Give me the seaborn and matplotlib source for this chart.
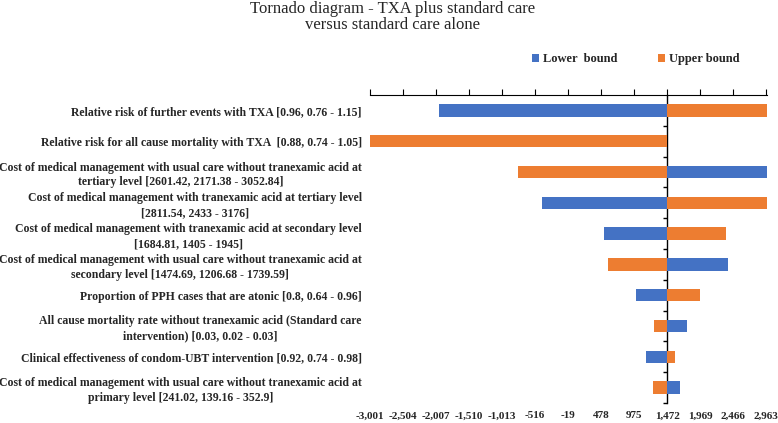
import numpy as np
import pandas as pd
import matplotlib
matplotlib.use('Agg')
import matplotlib.pyplot as plt
import seaborn as sns

# parameters (top to bottom) and the model output at each bound
params = [
    'Relative risk of further events with TXA [0.96, 0.76 - 1.15]',
    'Relative risk for all cause mortality with TXA  [0.88, 0.74 - 1.05]',
    'Cost of medical management with usual care without tranexamic acid at\ntertiary level [2601.42, 2171.38 - 3052.84]',
    'Cost of medical management with tranexamic acid at tertiary level\n[2811.54, 2433 - 3176]',
    'Cost of medical management with tranexamic acid at secondary level\n[1684.81, 1405 - 1945]',
    'Cost of medical management with usual care without tranexamic acid at\nsecondary level [1474.69, 1206.68 - 1739.59]',
    'Proportion of PPH cases that are atonic [0.8, 0.64 - 0.96]',
    'All cause mortality rate without tranexamic acid (Standard care\nintervention) [0.03, 0.02 - 0.03]',
    'Clinical effectiveness of condom-UBT intervention [0.92, 0.74 - 0.98]',
    'Cost of medical management with usual care without tranexamic acid at\nprimary level [241.02, 139.16 - 352.9]',
]
lower_vals = [-1956, 1472, 3004, -415, 529, 2382, 1000, 1769, 1151, 1668]
upper_vals = [3004, -3050, -772, 3004, 2356, 579, 1964, 1271, 1588, 1261]
base_value = 1472
tick_step = 497
bound_names = ['Lower  bound', 'Upper bound']

sns.set_theme(style='white')
plt.rcParams['font.family'] = ['Liberation Serif', 'DejaVu Serif']

df = pd.DataFrame({
    'param': params * 2,
    'bound': [bound_names[0]] * len(params) + [bound_names[1]] * len(params),
    'value': lower_vals + upper_vals,
})
df['delta'] = df['value'] - base_value

fig = plt.figure(figsize=(7.78, 4.23), dpi=100)
ax = fig.add_axes([0.4756, 0.0473, 0.5104, 0.7281])

sns.barplot(data=df, y='param', x='delta', hue='bound', order=params,
            hue_order=bound_names, dodge=False, width=0.4, errorbar=None,
            palette={bound_names[0]: '#4472C4', bound_names[1]: '#ED7D31'},
            saturation=1, linewidth=0, ax=ax)

xmin, xmax = -9 * tick_step, 3 * tick_step + 14
ax.set_xlim(xmin, xmax)
ticks = np.arange(-9, 4) * tick_step
ax.set_xticks(ticks)
ax.set_xticklabels([f'{base_value + t:,}' for t in ticks], fontsize=8, fontweight='bold')
ax.tick_params(axis='x', top=True, bottom=False, labeltop=False, labelbottom=True,
               direction='out', length=4, width=0.8, color='black', pad=2)
ax.set_xlabel('')
ax.set_ylabel('')
for side in ['left', 'right', 'bottom']:
    ax.spines[side].set_visible(False)
ax.spines['top'].set_color('black')
ax.spines['top'].set_linewidth(0.8)

ax.tick_params(axis='y', length=0, pad=6)
for lbl in ax.get_yticklabels():
    lbl.set_fontsize(8.5)
    lbl.set_fontweight('bold')
    lbl.set_multialignment('center')
    lbl.set_linespacing(1.3)

# vertical axis through the base case value
sec = ax.secondary_yaxis((0 - xmin) / (xmax - xmin))
sec.set_yticks(np.arange(0.5, len(params), 1))
sec.set_yticklabels([])
sec.yaxis.set_ticks_position('left')
sec.tick_params(axis='y', direction='out', length=3, width=1, color='black')
for s in sec.spines.values():
    s.set_color('black')
    s.set_linewidth(1)

ax.legend(loc='center', bbox_to_anchor=(0.817, 0.8605), bbox_transform=fig.transFigure,
          ncol=2, frameon=False, handlelength=0.6, handleheight=0.6, handletextpad=0.3,
          columnspacing=3.2, prop={'weight': 'bold', 'size': 9})

fig.text(0.505, 0.997, 'Tornado diagram - TXA plus standard care\nversus standard care alone',
         ha='center', va='top', fontsize=12, linespacing=1.0)

fig.savefig('out.png', dpi=100)
